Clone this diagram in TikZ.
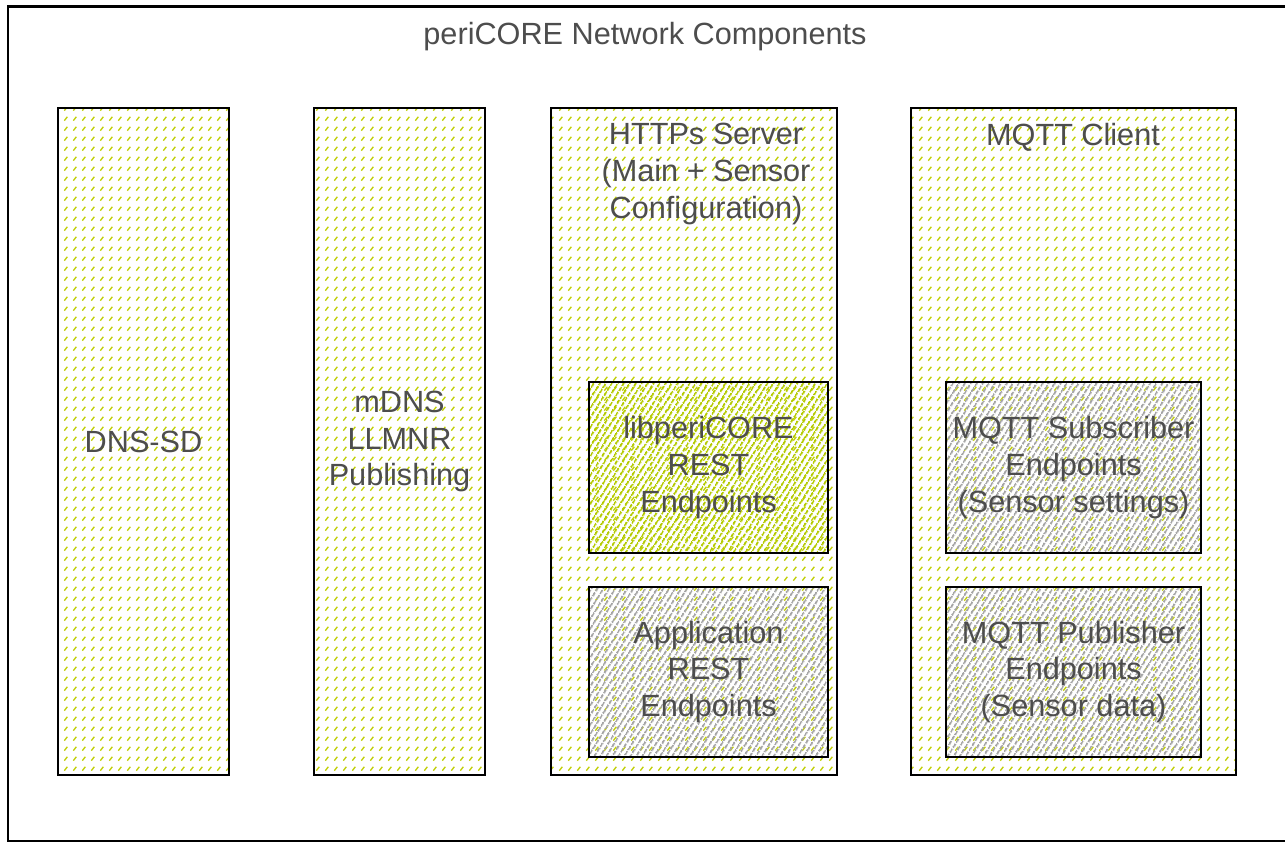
\documentclass[tikz,border=0pt]{standalone}
\usepackage{fontspec}
\setmainfont{Liberation Sans}
\usetikzlibrary{patterns.meta}
\definecolor{hatchgreen}{RGB}{194,208,10}
\definecolor{densegreen}{RGB}{180,202,0}
\definecolor{densegray}{RGB}{165,165,165}
\definecolor{txt}{RGB}{77,77,77}
\tikzdeclarepattern{
  name=sparsedash,
  type=uncolored,
  bounding box={(0pt,0pt) and (6.75pt,7.5pt)},
  tile size={(6.75pt,7.5pt)},
  code={\draw[line width=1.1pt] (1.1pt,1.1pt) -- (3.6pt,4.3pt);}
}
\tikzset{
  lbl/.style={text=txt, font=\fontsize{23}{27.5}\selectfont, align=center, inner sep=0pt},
  column/.style={draw=black, line width=1.9pt, inner sep=0pt,
    preaction={fill=white},
    preaction={pattern=sparsedash, pattern color=hatchgreen},
    text=txt, font=\fontsize{23}{27.5}\selectfont, align=center},
  inner/.style={draw=black, line width=1.9pt, inner sep=0pt,
    text=txt, font=\fontsize{23}{27.5}\selectfont, align=center,
    pattern={Lines[angle=58,distance=4pt,line width=1.6pt]}},
  greenbox/.style={inner, pattern color=densegreen},
  graybox/.style={inner, pattern color=densegray},
}
\begin{document}
\begin{tikzpicture}[x=0.75pt,y=-0.75pt]
\useasboundingbox (0,0) rectangle (1285,842);
% outer frame (right side lies beyond the picture)
\node[draw=black, line width=1.9pt, inner sep=0pt, minimum width={1300*0.75pt}, minimum height={834.5*0.75pt}, anchor=north west] (outer) at (6.5,5.5) {};
\node[lbl] (title) at (645,37) {periCORE Network Components};
% columns
\node[column, minimum width={171*0.75pt}, minimum height={667*0.75pt}] (dns) at (143.5,441.5) {DNS-SD};
\node[column, minimum width={171*0.75pt}, minimum height={667*0.75pt}] (mdns) at (399.5,441.5) {mDNS\\LLMNR\\Publishing};
\node[column, minimum width={286*0.75pt}, minimum height={667*0.75pt}] (https) at (694,441.5) {};
\node[column, minimum width={325*0.75pt}, minimum height={667*0.75pt}] (mqtt) at (1073.5,441.5) {};
\node[lbl] (httpslbl) at (706,174) {HTTPs Server\\(Main + Sensor\\Configuration)};
\node[lbl] (mqttlbl) at (1073,137) {MQTT Client};
% inner boxes
\node[greenbox, minimum width={239*0.75pt}, minimum height={171*0.75pt}] (lib) at (708.5,467.5) {libperiCORE\\REST\\Endpoints};
\node[graybox, minimum width={239*0.75pt}, minimum height={170*0.75pt}] (app) at (708.5,672) {Application\\REST\\Endpoints};
\node[graybox, minimum width={255*0.75pt}, minimum height={171*0.75pt}] (sub) at (1073.5,467.5) {MQTT Subscriber\\Endpoints\\(Sensor settings)};
\node[graybox, minimum width={255*0.75pt}, minimum height={170*0.75pt}] (pub) at (1073.5,672) {MQTT Publisher\\Endpoints\\(Sensor data)};
\end{tikzpicture}
\end{document}
